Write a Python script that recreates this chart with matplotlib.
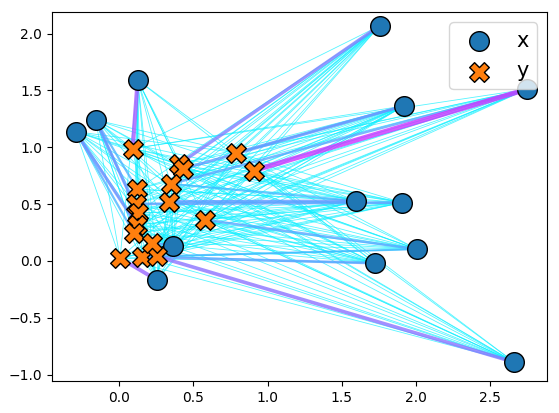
import numpy as np
import matplotlib
matplotlib.use('Agg')
import matplotlib.pyplot as plt

# source samples (circles)
xs_x = [1.755, 0.124, -0.159, -0.294, 0.364, 0.252, 1.917, 2.749, 1.595, 1.908, 2.007, 1.723, 2.663]
xs_y = [2.068, 1.592, 1.240, 1.137, 0.135, -0.167, 1.363, 1.510, 0.528, 0.513, 0.103, -0.020, -0.891]

# target samples (crosses)
xt_x = [0.090, 0.400, 0.430, 0.787, 0.905, 0.122, 0.349, 0.338, 0.578, 0.113, 0.128, 0.117, 0.099, 0.005, 0.151, 0.252, 0.219]
xt_y = [0.988, 0.850, 0.810, 0.953, 0.794, 0.630, 0.677, 0.522, 0.361, 0.501, 0.419, 0.317, 0.243, 0.024, 0.035, 0.040, 0.156]

# strongest transport links: (source, target, value)
strong = [(0, 1, 0.50), (1, 0, 0.65), (2, 10, 0.45), (3, 11, 0.45), (4, 16, 0.35),
          (5, 13, 0.60), (6, 2, 0.40), (6, 3, 0.35), (7, 4, 0.80), (7, 6, 0.35),
          (8, 7, 0.40), (9, 9, 0.38), (10, 8, 0.35), (11, 14, 0.38), (12, 15, 0.55),
          (2, 5, 0.30), (3, 12, 0.30), (10, 15, 0.28), (8, 6, 0.28)]
base = 0.06

G = np.full((len(xs_x), len(xt_x)), base)
for i, j, v in strong:
    G[i, j] = v

fig = plt.figure(figsize=(5.59, 4.13), dpi=100)
ax = fig.add_axes([0.093, 0.078, 0.886, 0.893])

order = np.argsort(G, axis=None)
for k in order:
    i, j = np.unravel_index(k, G.shape)
    g = G[i, j]
    ax.plot([xs_x[i], xt_x[j]], [xs_y[i], xt_y[j]], color=plt.cm.cool(g),
            lw=0.4 + 4 * g if g > base else 0.6, alpha=0.8 if g > base else 0.7, zorder=1)

ax.scatter(xs_x, xs_y, s=200, c='C0', edgecolors='k', label='x', zorder=3)
ax.scatter(xt_x, xt_y, s=200, c='C1', marker='X', edgecolors='k', label='y', zorder=3)

ax.set_xlim(-0.454, 2.886)
ax.set_ylim(-1.055, 2.19)
ax.legend(loc='upper right', fontsize=15)

fig.savefig('out.png', dpi=100)
